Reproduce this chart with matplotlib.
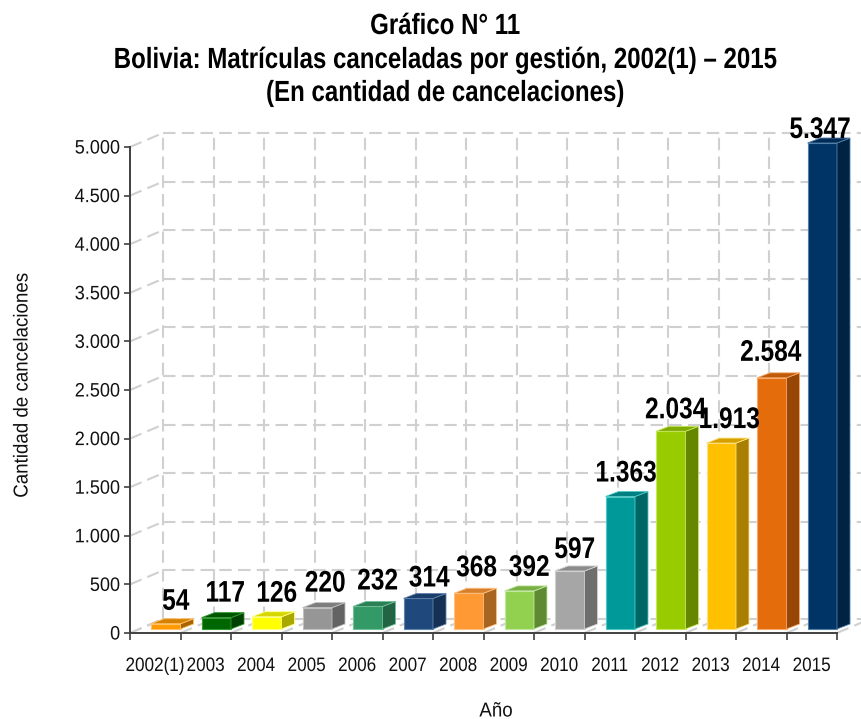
import matplotlib
matplotlib.use("Agg")
import matplotlib.pyplot as plt
from matplotlib.patches import Polygon
from matplotlib.patheffects import AbstractPathEffect
from matplotlib.transforms import Affine2D

plt.rcParams["font.family"] = ["Liberation Sans", "DejaVu Sans"]


class Narrow(AbstractPathEffect):
    """Condense a text horizontally around its centre or right end."""

    def __init__(self, sx, anchor="center"):
        super().__init__()
        self.sx = sx
        self.anchor = anchor

    def draw_path(self, renderer, gc, tpath, affine, rgbFace=None):
        ext = tpath.get_extents()
        cx = ext.x1 if self.anchor == "right" else (ext.x0 + ext.x1) / 2
        a = Affine2D().translate(-cx, 0).scale(self.sx, 1).translate(cx, 0) + affine
        renderer.draw_path(gc, tpath, a, rgbFace)


# Data
years = ["2002(1)", "2003", "2004", "2005", "2006", "2007", "2008", "2009",
         "2010", "2011", "2012", "2013", "2014", "2015"]
values = [54, 117, 126, 220, 232, 314, 368, 392, 597, 1363, 2034, 1913, 2584, 5347]
labels = ["54", "117", "126", "220", "232", "314", "368", "392", "597",
          "1.363", "2.034", "1.913", "2.584", "5.347"]
yticks = [0, 500, 1000, 1500, 2000, 2500, 3000, 3500, 4000, 4500, 5000]
yticklabels = ["0", "500", "1.000", "1.500", "2.000", "2.500", "3.000", "3.500",
               "4.000", "4.500", "5.000"]

# Styles
front = ["#FF9900", "#006600", "#FFFF00", "#969696", "#339966", "#1F497D", "#FF9933",
         "#92D050", "#A6A6A6", "#009999", "#99CC00", "#FFC000", "#E46C0A", "#003366"]
side = ["#A86400", "#004000", "#A8A800", "#636363", "#226544", "#143052", "#A86522",
        "#608934", "#6E6E6E", "#006565", "#658700", "#A87F00", "#964707", "#002243"]
top = ["#D68000", "#005500", "#D6D600", "#7E7E7E", "#2B8056", "#1A3D69", "#D6802B",
       "#7AAF43", "#8B8B8B", "#008080", "#80AB00", "#D6A100", "#BF5B08", "#002B56"]
edge = ["#FFC266", "#339933", "#FFFF80", "#C0C0C0", "#70C098", "#5F82AD", "#FFC080",
        "#C0E8A0", "#D0D0D0", "#50C8C8", "#C8E860", "#FFE080", "#F8A868", "#5080A8"]
# hand-placed label offsets (pixels) from the bar's front top centre
label_dx = [10, 9, 10, 8, 10, 11, 8, 10, 5, 6, 5, 8, -1, -2]
label_dy = [8, 10, 9, 10, 11, 6, 11, 9, 7, 9, 7, 9, 11, -1]

W, H = 861, 719
L, R, T, B = 130, 837, 147, 633
YMAX = 5000
fig = plt.figure(figsize=(W / 100, H / 100), dpi=100)
ax = fig.add_axes([L / W, (H - B) / H, (R - L) / W, (B - T) / H])
ax.set_xlim(0, len(years))
ax.set_ylim(0, YMAX)
px_x = len(years) / (R - L)
px_y = YMAX / (B - T)

# 3D wall and floor grid
DX, DY = 33 * px_x, 14 * px_y
grid = dict(color="#D0D0D0", lw=1.5, dashes=(6, 3), clip_on=False, zorder=1)
for v in yticks:
    ax.plot([DX, len(years) + DX], [v + DY, v + DY], **grid)
    ax.plot([0, DX], [v, v + DY], **grid)
for i in range(len(years) + 1):
    ax.plot([i + DX, i + DX], [DY, YMAX + DY], **grid)
    ax.plot([i, i + DX], [0, DY], **grid)

# Bars
BW = 29.5 * px_x
BASE = 4 * px_y
SX, SY = 13 * px_x, 5 * px_y
for i, v in enumerate(values):
    h = min(v, YMAX)
    x1 = i + 1
    x0 = x1 - BW
    ax.bar(x0, h, width=BW, bottom=BASE, align="edge", color=front[i], edgecolor=edge[i],
           lw=0.8, clip_on=False, zorder=3)
    yt = BASE + h
    ax.add_patch(Polygon([(x1, BASE), (x1 + SX, BASE + SY), (x1 + SX, yt + SY), (x1, yt)],
                         closed=True, fc=side[i], ec=edge[i], lw=0.6, clip_on=False, zorder=3))
    ax.add_patch(Polygon([(x0, yt), (x0 + SX, yt + SY), (x1 + SX, yt + SY), (x1, yt)],
                         closed=True, fc=top[i], ec=edge[i], lw=0.6, clip_on=False, zorder=3))
    t = ax.annotate(labels[i], xy=(x0 + BW / 2, yt), xytext=(label_dx[i] * 0.72, label_dy[i] * 0.72),
                    textcoords="offset points", ha="center", va="bottom", fontsize=21.5,
                    fontweight="bold", color="black", zorder=5, annotation_clip=False)
    t.set_path_effects([Narrow(0.82)])

# Axes
for s in ("top", "right"):
    ax.spines[s].set_visible(False)
for s in ("left", "bottom"):
    ax.spines[s].set_color("#404040")
    ax.spines[s].set_linewidth(1.4)
ax.set_yticks(yticks)
ax.set_yticklabels(yticklabels, fontsize=14, color="#111111")
ax.tick_params(axis="y", length=4, width=1.2, color="#404040", pad=3)
for t in ax.get_yticklabels():
    t.set_path_effects([Narrow(0.93, "right")])
ax.set_xticks(range(len(years) + 1))
ax.set_xticklabels([])
ax.tick_params(axis="x", which="major", length=5, width=1.2, color="#404040")
ax.set_xticks([i + 0.5 for i in range(len(years))], minor=True)
ax.set_xticklabels(years, minor=True, fontsize=14, color="#111111")
ax.tick_params(axis="x", which="minor", length=0, pad=18)
for t in ax.get_xticklabels(minor=True):
    t.set_path_effects([Narrow(0.88)])
ax.patch.set_alpha(0)

yl = fig.text(22 / W, 1 - 385 / H, "Cantidad de cancelaciones", rotation=90, ha="center",
              va="center", fontsize=14.5, color="#111111")
yl.set_path_effects([Narrow(0.93)])
xl = fig.text(496 / W, 1 - 711 / H, "Año", ha="center", va="center", fontsize=14.5, color="#111111")
xl.set_path_effects([Narrow(0.93)])

title = ["Gráfico N° 11", "Bolivia: Matrículas canceladas por gestión, 2002(1) – 2015",
         "(En cantidad de cancelaciones)"]
for line, yy in zip(title, (26, 60, 93)):
    tt = fig.text(445 / W, 1 - yy / H, line, ha="center", va="center", fontsize=21,
                  fontweight="bold", color="black")
    tt.set_path_effects([Narrow(0.825)])

fig.savefig("out.png", dpi=100, facecolor="white")
